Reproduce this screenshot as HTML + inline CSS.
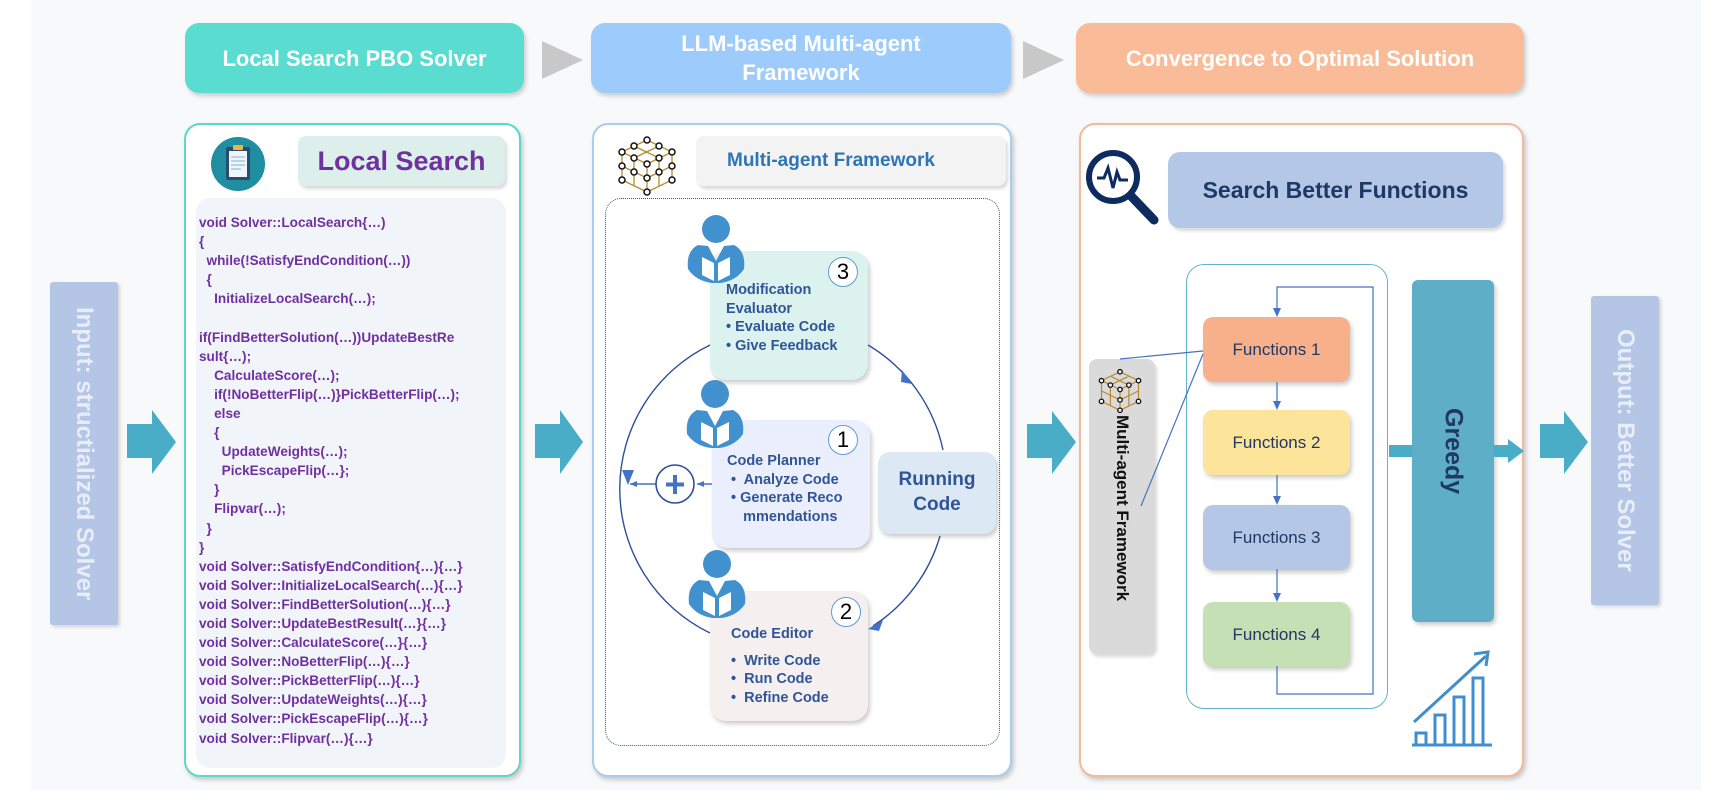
<!DOCTYPE html>
<html><head><meta charset="utf-8"><style>
*{margin:0;padding:0;box-sizing:border-box}
body{width:1725px;height:809px;background:#fff;position:relative;overflow:hidden;font-family:"Liberation Sans",Arial,sans-serif}
.a{position:absolute}
.hdr{position:absolute;border-radius:14px;color:#fff;font-weight:bold;font-size:22px;display:flex;align-items:center;justify-content:center;text-align:center;box-shadow:2px 3px 4px rgba(0,0,0,.18);line-height:29px}
.panel{position:absolute;background:#fff;border-radius:16px;border:2px solid;box-shadow:2px 3px 5px rgba(0,0,0,.2)}
.code{position:absolute;left:199px;top:213px;font-size:13.6px;font-weight:bold;color:#7030a0;line-height:19.1px;white-space:pre}
.card{position:absolute;border-radius:16px;box-shadow:2px 3px 4px rgba(0,0,0,.2);color:#2f5597;font-weight:bold;font-size:14.5px;line-height:18.5px}
.num{position:absolute;width:30px;height:30px;border:1.5px solid #5b9bd5;border-radius:50%;background:#fff;font-size:22px;color:#000;display:flex;align-items:center;justify-content:center;font-weight:normal}
.fn{position:absolute;left:1203px;width:147px;height:65px;border-radius:10px;box-shadow:2px 3px 4px rgba(0,0,0,.2);font-size:17px;color:#1f3864;display:flex;align-items:center;justify-content:center}
.vt{position:absolute;writing-mode:vertical-rl;display:flex;align-items:center;justify-content:center;font-weight:bold}
</style></head><body>
<div class="a" style="left:31px;top:0;width:1670px;height:790px;background:#f8f9fa"></div>

<div class="hdr" style="left:185px;top:23px;width:339px;height:70px;background:#5adcd0">Local Search PBO Solver</div>
<div class="hdr" style="left:591px;top:23px;width:420px;height:70px;background:#9dcbfb">LLM-based Multi-agent<br>Framework</div>
<div class="hdr" style="left:1076px;top:23px;width:448px;height:70px;background:#f9bb98">Convergence to Optimal Solution</div>

<div class="vt" style="left:50px;top:282px;width:68px;height:343px;background:#b4c5e6;color:#e8eef8;font-size:24px;border-radius:3px;box-shadow:2px 2px 3px rgba(0,0,0,.15)">Input: structialized Solver</div>
<div class="vt" style="left:1591px;top:296px;width:68px;height:309px;background:#b4c5e6;color:#e8eef8;font-size:24px;border-radius:3px;box-shadow:2px 2px 3px rgba(0,0,0,.15)">Output: Better Solver</div>

<div class="panel" style="left:184px;top:123px;width:337px;height:654px;border-color:#5ad8c8"></div>
<div class="a" style="left:298px;top:136px;width:207px;height:50px;background:#dcefea;border-radius:8px;box-shadow:2px 3px 3px rgba(0,0,0,.15);color:#7030a0;font-weight:bold;font-size:27px;display:flex;align-items:center;justify-content:center">Local Search</div>
<div class="a" style="left:196px;top:198px;width:310px;height:570px;background:#f1f4f9;border-radius:14px"></div>
<div class="code">void Solver::LocalSearch{…)
{
  while(!SatisfyEndCondition(…))
  {
    InitializeLocalSearch(…);

if(FindBetterSolution(…))UpdateBestRe
sult{…);
    CalculateScore(…);
    if(!NoBetterFlip(…)}PickBetterFlip(…);
    else
    {
      UpdateWeights(…);
      PickEscapeFlip(…};
    }
    Flipvar(…);
  }
}
void Solver::SatisfyEndCondition{…){…}
void Solver::InitializeLocalSearch(…){…}
void Solver::FindBetterSolution(…){…}
void Solver::UpdateBestResult(…}{…}
void Solver::CalculateScore(…}{…}
void Solver::NoBetterFlip(…){…}
void Solver::PickBetterFlip(…){…}
void Solver::UpdateWeights(…){…}
void Solver::PickEscapeFlip(…){…}
void Solver::Flipvar(…){…}</div>

<div class="panel" style="left:592px;top:123px;width:420px;height:654px;border-color:#a9cdef"></div>
<div class="a" style="left:696px;top:136px;width:310px;height:50px;background:#f3f3f3;border-radius:8px;box-shadow:2px 3px 3px rgba(0,0,0,.15);color:#2e75b6;font-weight:bold;font-size:19px;display:flex;align-items:center;padding-left:31px">Multi-agent Framework</div>
<div class="a" style="left:605px;top:198px;width:395px;height:548px;border:1.5px dotted #2f5597;border-radius:16px"></div>

<div class="panel" style="left:1079px;top:123px;width:445px;height:654px;border-color:#f4b99a"></div>
<div class="a" style="left:1168px;top:152px;width:335px;height:76px;background:#b4c7e7;border-radius:12px;box-shadow:2px 3px 3px rgba(0,0,0,.15);color:#1f3864;font-weight:bold;font-size:23px;display:flex;align-items:center;justify-content:center">Search Better Functions</div>
<div class="a" style="left:1186px;top:264px;width:202px;height:445px;border:1.5px solid #62b4cc;border-radius:18px"></div>
<div class="a" style="left:1089px;top:359px;width:66px;height:295px;background:#dadada;border-radius:8px;box-shadow:2px 3px 3px rgba(0,0,0,.15)"></div>
<div class="vt" style="left:1089px;top:415px;width:66px;height:235px;color:#111;font-size:17px;justify-content:flex-start">Multi-agent Framework</div>
<div class="vt" style="left:1412px;top:280px;width:82px;height:342px;background:#5eaec8;border-radius:6px;box-shadow:2px 3px 4px rgba(0,0,0,.2);color:#1f3864;font-size:25px">Greedy</div>
<div class="fn" style="top:317px;background:#f8b08a">Functions 1</div>
<div class="fn" style="top:410px;background:#fde49b">Functions 2</div>
<div class="fn" style="top:505px;background:#b4c7e7">Functions 3</div>
<div class="fn" style="top:602px;background:#c5e0b4">Functions 4</div>

<div class="card" style="left:710px;top:251px;width:158px;height:129px;background:#dcf2ee;padding:30px 0 0 16px">Modification<br>Evaluator<br>• Evaluate Code<br>• Give Feedback</div>
<div class="card" style="left:712px;top:420px;width:158px;height:128px;background:#ebeefc;padding:32px 0 0 15px">Code Planner<br>&nbsp;•&nbsp; Analyze Code<br>&nbsp;• Generate Reco<br>&nbsp;&nbsp;&nbsp;&nbsp;mmendations</div>
<div class="card" style="left:710px;top:591px;width:158px;height:130px;background:#f5efef;padding:34px 0 0 21px">Code Editor<br><span style="display:block;height:8px"></span>•&nbsp; Write Code<br>•&nbsp; Run Code<br>•&nbsp; Refine Code</div>
<div class="num" style="left:828px;top:257px">3</div>
<div class="num" style="left:828px;top:425px">1</div>
<div class="num" style="left:831px;top:597px">2</div>
<div class="a" style="left:878px;top:452px;width:118px;height:82px;background:#dde8f5;border-radius:12px;box-shadow:2px 3px 4px rgba(0,0,0,.2);color:#2f5597;font-weight:bold;font-size:19px;text-align:center;line-height:25px;padding-top:15px">Running<br>Code</div>

<svg class="a" style="left:0;top:0" width="1725" height="809">
<defs>
<marker id="sm" markerWidth="8" markerHeight="8" refX="7" refY="4" orient="auto" markerUnits="userSpaceOnUse"><path d="M0,1 L7,4 L0,7 z" fill="#4472c4"/></marker>
</defs>
<polygon points="542,41 583,60 542,79" fill="#c8c8c8"/>
<polygon points="1023,41 1064,60 1023,79" fill="#c8c8c8"/>
<g fill="#4aadc8">
<polygon points="127,424 152,424 152,410 176,442 152,474 152,458 127,458"/>
<polygon points="535,424 560,424 560,410 583,442 560,474 560,458 535,458"/>
<polygon points="1027,424 1052,424 1052,411 1076,442 1052,474 1052,458 1027,458"/>
<polygon points="1540,424 1564,424 1564,411 1588,442 1564,474 1564,458 1540,458"/>
<rect x="1389" y="445" width="23" height="12"/>
<polygon points="1494,445 1508,445 1508,439 1524,451 1508,463 1508,457 1494,457"/>
</g>
<g fill="none" stroke="#2f4f9a" stroke-width="1.4">
<path d="M710,345 A160,160 0 0,0 710,633"/>
<path d="M868,345 A160,160 0 0,1 943,450"/>
<path d="M940,536 A160,160 0 0,1 873,626"/>
</g>
<polygon points="902,370 912,384 901,382" fill="#4472c4"/>
<polygon points="868,629 883,620 879,631" fill="#4472c4"/>
<polygon points="622,470 634,470 628,485" fill="#4472c4"/>
<line x1="712" y1="484" x2="697" y2="484" stroke="#4472c4" stroke-width="1.5" marker-end="url(#sm)"/>
<line x1="656" y1="484" x2="630" y2="484" stroke="#4472c4" stroke-width="1.5" marker-end="url(#sm)"/>
<circle cx="675" cy="484" r="19" fill="#fff" stroke="#2f4f9a" stroke-width="1.6"/>
<path d="M675,475 V494 M666,484.5 H684" stroke="#4472c4" stroke-width="4"/>
<g fill="#4291cf">
<g transform="translate(716,229)"><circle cx="0" cy="0" r="14"/><path d="M-28,40 Q-30,22 -18,16 L-8,17 L0,32 L8,17 L18,16 Q30,22 28,40 Q20,52 4,54 L-4,54 Q-20,52 -28,40Z"/><path d="M-14,28 L-2,34 L-2,52 L-14,46Z M14,28 L2,34 L2,52 L14,46Z" fill="#fff"/></g>
<g transform="translate(715,394)"><circle cx="0" cy="0" r="14"/><path d="M-28,40 Q-30,22 -18,16 L-8,17 L0,32 L8,17 L18,16 Q30,22 28,40 Q20,52 4,54 L-4,54 Q-20,52 -28,40Z"/><path d="M-14,28 L-2,34 L-2,52 L-14,46Z M14,28 L2,34 L2,52 L14,46Z" fill="#fff"/></g>
<g transform="translate(717,564)"><circle cx="0" cy="0" r="14"/><path d="M-28,40 Q-30,22 -18,16 L-8,17 L0,32 L8,17 L18,16 Q30,22 28,40 Q20,52 4,54 L-4,54 Q-20,52 -28,40Z"/><path d="M-14,28 L-2,34 L-2,52 L-14,46Z M14,28 L2,34 L2,52 L14,46Z" fill="#fff"/></g>
</g>
<circle cx="238" cy="164" r="27" fill="#1f8ea1"/>
<rect x="226" y="147" width="24" height="33" rx="2" fill="#2b4c6f"/>
<rect x="229" y="151" width="18" height="26" fill="#eef6fb"/>
<rect x="233" y="145" width="10" height="5" rx="1" fill="#f0b43c"/>
<g stroke="#7fb3d0" stroke-width="1"><line x1="231" y1="157" x2="245" y2="157"/><line x1="231" y1="161" x2="245" y2="161"/><line x1="231" y1="165" x2="245" y2="165"/><line x1="231" y1="169" x2="241" y2="169"/></g>
<g stroke="#b88a2e" stroke-width="1.3" fill="none">
<path d="M647,140 L672,152 L672,180 L647,192 L622,180 L622,152Z M622,152 L647,164 L672,152 M647,164 L647,192 M634,146 L659,158 M659,146 L634,158 M622,166 L647,178 L672,166 M634,158 L634,186 M659,158 L659,186"/>
<g fill="#fff" stroke="#111" stroke-width="1.5"><circle cx="647" cy="140" r="3"/><circle cx="672" cy="152" r="3"/><circle cx="672" cy="180" r="3"/><circle cx="647" cy="192" r="3"/><circle cx="622" cy="180" r="3"/><circle cx="622" cy="152" r="3"/><circle cx="647" cy="164" r="3"/><circle cx="634" cy="146" r="3"/><circle cx="659" cy="146" r="3"/><circle cx="634" cy="158" r="3"/><circle cx="659" cy="158" r="3"/><circle cx="622" cy="166" r="3"/><circle cx="672" cy="166" r="3"/><circle cx="647" cy="178" r="3"/><circle cx="634" cy="172" r="3"/><circle cx="659" cy="172" r="3"/></g>
</g>
<g transform="translate(1120,391) scale(0.74) translate(-647,-166)">
<path d="M647,140 L672,152 L672,180 L647,192 L622,180 L622,152Z M622,152 L647,164 L672,152 M647,164 L647,192 M634,146 L659,158 M659,146 L634,158 M622,166 L647,178 L672,166 M634,158 L634,186 M659,158 L659,186" stroke="#b88a2e" stroke-width="1.6" fill="none"/>
<g fill="#fff" stroke="#111" stroke-width="1.8"><circle cx="647" cy="140" r="3"/><circle cx="672" cy="152" r="3"/><circle cx="672" cy="180" r="3"/><circle cx="647" cy="192" r="3"/><circle cx="622" cy="180" r="3"/><circle cx="622" cy="152" r="3"/><circle cx="647" cy="164" r="3"/><circle cx="634" cy="158" r="3"/><circle cx="659" cy="158" r="3"/><circle cx="647" cy="178" r="3"/></g>
</g>
<circle cx="1113" cy="177" r="24" fill="none" stroke="#0d2b5e" stroke-width="6"/>
<line x1="1131" y1="196" x2="1154" y2="220" stroke="#0d2b5e" stroke-width="9" stroke-linecap="round"/>
<path d="M1097,178 H1104 L1108,168 L1113,188 L1117,172 L1120,180 H1128" fill="none" stroke="#0d2b5e" stroke-width="3"/>
<g stroke="#4472c4" stroke-width="1.2" fill="none">
<path d="M1277,666 V694 H1373 V287 H1277 V312"/>
<line x1="1277" y1="382" x2="1277" y2="405"/>
<line x1="1277" y1="475" x2="1277" y2="500"/>
<line x1="1277" y1="569" x2="1277" y2="597"/>
<line x1="1120" y1="359" x2="1203" y2="351"/>
<line x1="1141" y1="506" x2="1203" y2="354"/>
</g>
<g fill="#4472c4">
<polygon points="1273,308 1281,308 1277,317"/>
<polygon points="1273,401 1281,401 1277,410"/>
<polygon points="1273,496 1281,496 1277,505"/>
<polygon points="1273,593 1281,593 1277,602"/>
</g>
<g stroke="#3f8fd0" stroke-width="3" fill="none">
<path d="M1412,745 H1492"/>
<rect x="1416" y="733" width="10" height="12"/><rect x="1435" y="715" width="10" height="30"/><rect x="1454" y="697" width="10" height="48"/><rect x="1473" y="678" width="10" height="67"/>
<path d="M1414,722 L1486,656"/><path d="M1474,654 L1488,652 L1486,666"/>
</g>
</svg>
</body></html>
